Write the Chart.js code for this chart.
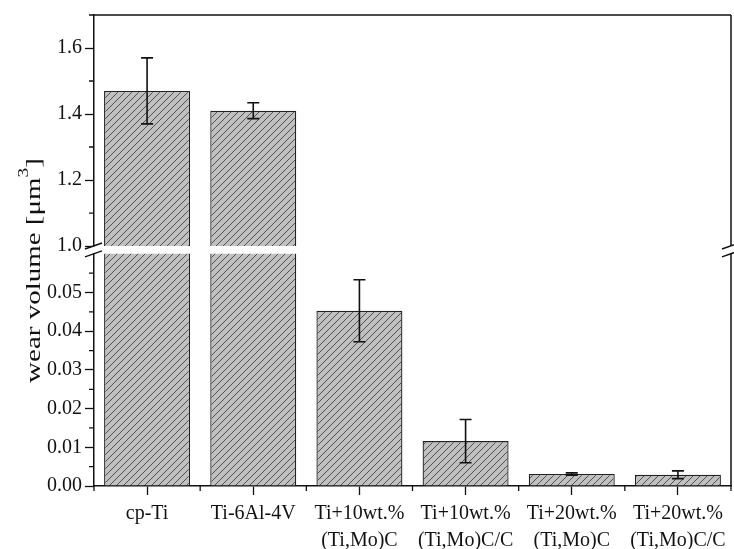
<!DOCTYPE html>
<html><head><meta charset="utf-8">
<script src="https://cdn.jsdelivr.net/npm/chart.js@4/dist/chart.umd.min.js"></script>
<style>html,body{margin:0;padding:0;background:#fff;} #wrap{width:734px;height:549px;position:relative;}</style>
</head><body><div id="wrap"><canvas id="c"></canvas></div>
<script>
// ---- data ----
const categories = [['cp-Ti'], ['Ti-6Al-4V'], ['Ti+10wt.%', '(Ti,Mo)C'], ['Ti+10wt.%', '(Ti,Mo)C/C'], ['Ti+20wt.%', '(Ti,Mo)C'], ['Ti+20wt.%', '(Ti,Mo)C/C']];
const wearVolume = [1.47, 1.41, 0.0453, 0.0116, 0.0031, 0.0029];
const wearError = [0.10, 0.024, 0.0080, 0.0056, 0.0003, 0.0010];
const upperTicks = [1.0, 1.2, 1.4, 1.6];
const upperTickLabels = ['1.0', '1.2', '1.4', '1.6'];
const upperMinorTicks = [1.1, 1.3, 1.5, 1.7];
const lowerTicks = [0, 0.01, 0.02, 0.03, 0.04, 0.05];
const lowerTickLabels = ['0.00', '0.01', '0.02', '0.03', '0.04', '0.05'];
const lowerMinorTicks = [0.005, 0.015, 0.025, 0.035, 0.045, 0.055];
const upperRange = [0.988, 1.7];
const lowerRange = [0, 0.061];
const breakUpper = 1.0;
const breakLower = 0.06;
const yTitle = 'wear volume [μm';
const yTitleSup = '3';

const FONT = "'Liberation Serif', 'Times New Roman', serif";

function makePattern() {
  const s = 7;
  const c = document.createElement('canvas');
  c.width = s; c.height = s;
  const g = c.getContext('2d');
  g.fillStyle = '#c0c0c0';
  g.fillRect(0, 0, s, s);
  g.strokeStyle = '#505050';
  g.lineWidth = 1;
  g.beginPath();
  for (const k of [-s, 0, s]) {
    g.moveTo(k - 1, s + 1);
    g.lineTo(k + s + 1, -1);
  }
  g.stroke();
  return g.createPattern(c, 'repeat');
}

const pattern = makePattern();

const breakPlugin = {
  id: 'breakAxis',
  beforeDatasetDraw(chart, args) {
    const meta = args.meta;
    const a = chart.chartArea;
    const ctx = chart.ctx;
    ctx.save();
    ctx.beginPath();
    if (meta.yAxisID === 'yUpper') {
      const yb = chart.scales.yUpper.getPixelForValue(breakUpper);
      ctx.rect(a.left - 5, a.top - 5, a.right - a.left + 10, yb - a.top + 5);
    } else {
      const yt = chart.scales.yLower.getPixelForValue(breakLower);
      ctx.rect(a.left - 5, yt, a.right - a.left + 10, a.bottom - yt + 5);
    }
    ctx.clip();
  },
  afterDatasetDraw(chart) {
    chart.ctx.restore();
  },
  afterDatasetsDraw(chart) {
    const ctx = chart.ctx;
    const xs = chart.scales.x;
    ctx.save();
    ctx.strokeStyle = '#111';
    ctx.lineWidth = 1.6;
    wearVolume.forEach((v, i) => {
      const ys = v >= breakUpper ? chart.scales.yUpper : chart.scales.yLower;
      const x = xs.getPixelForTick(i);
      const y1 = ys.getPixelForValue(v + wearError[i]);
      const y2 = ys.getPixelForValue(v - wearError[i]);
      const cw = 6;
      ctx.beginPath();
      ctx.moveTo(x, y1); ctx.lineTo(x, y2);
      ctx.moveTo(x - cw, y1); ctx.lineTo(x + cw, y1);
      ctx.moveTo(x - cw, y2); ctx.lineTo(x + cw, y2);
      ctx.stroke();
    });
    ctx.restore();
  },
  afterDraw(chart) {
    const ctx = chart.ctx;
    const a = chart.chartArea;
    const yu = chart.scales.yUpper, yl = chart.scales.yLower, xs = chart.scales.x;
    const yb = yu.getPixelForValue(breakUpper);
    const yt = yl.getPixelForValue(breakLower);
    ctx.save();
    // whiteout gap on axis lines
    ctx.fillStyle = '#fff';
    ctx.fillRect(a.left - 3, yb + 0.5, 6, yt - yb - 1);
    ctx.fillRect(a.right - 3, yb + 0.5, 6, yt - yb - 1);
    ctx.strokeStyle = '#111';
    ctx.lineWidth = 1.5;
    // frame top and right
    ctx.beginPath();
    ctx.moveTo(a.left, a.top); ctx.lineTo(a.right, a.top);
    ctx.moveTo(a.right, a.top); ctx.lineTo(a.right, yb);
    ctx.moveTo(a.right, yt); ctx.lineTo(a.right, a.bottom);
    ctx.stroke();
    // break marks
    ctx.beginPath();
    for (const xx of [a.left, a.right]) {
      for (const yy of [yb, yt]) {
        ctx.moveTo(xx - 9, yy + 3);
        ctx.lineTo(xx + 8, yy - 3);
      }
    }
    ctx.stroke();
    // minor ticks y
    ctx.lineWidth = 1.3;
    ctx.beginPath();
    upperMinorTicks.forEach(v => {
      const y = yu.getPixelForValue(v);
      ctx.moveTo(a.left - 5, y); ctx.lineTo(a.left, y);
    });
    lowerMinorTicks.forEach(v => {
      const y = yl.getPixelForValue(v);
      ctx.moveTo(a.left - 5, y); ctx.lineTo(a.left, y);
    });
    // minor ticks x at category boundaries
    const n = categories.length;
    const bounds = [a.left];
    for (let i = 0; i < n - 1; i++) bounds.push((xs.getPixelForTick(i) + xs.getPixelForTick(i + 1)) / 2);
    bounds.push(a.right);
    bounds.forEach(x => { ctx.moveTo(x, a.bottom); ctx.lineTo(x, a.bottom + 5); });
    ctx.stroke();
    // y title (stretched along its direction as in the reference)
    ctx.fillStyle = '#111';
    ctx.translate(a.left - 60, (a.top + a.bottom) / 2 + 20);
    ctx.rotate(-Math.PI / 2);
    ctx.scale(1.38, 1);
    ctx.textBaseline = 'middle';
    ctx.font = '21px ' + FONT;
    const w1 = ctx.measureText(yTitle).width;
    ctx.font = '14px ' + FONT;
    const w2 = ctx.measureText(yTitleSup).width;
    ctx.font = '21px ' + FONT;
    const w3 = ctx.measureText(']').width;
    let x0 = -(w1 + w2 + w3) / 2;
    ctx.textAlign = 'left';
    ctx.fillText(yTitle, x0, 0);
    ctx.font = '14px ' + FONT;
    ctx.fillText(yTitleSup, x0 + w1, -10);
    ctx.font = '21px ' + FONT;
    ctx.fillText(']', x0 + w1 + w2, 0);
    ctx.restore();
  }
};

const axisCommon = {
  border: { color: '#111', width: 1.5 },
  grid: { drawOnChartArea: false, drawTicks: true, tickLength: 9, tickColor: '#111', tickWidth: 1.3 },
};

new Chart(document.getElementById('c'), {
  type: 'bar',
  data: {
    labels: categories,
    datasets: [
      { data: wearVolume, yAxisID: 'yUpper', grouped: false, backgroundColor: pattern, borderColor: '#222', borderWidth: 1.3, borderSkipped: 'bottom', barPercentage: 0.81, categoryPercentage: 1.0 },
      { data: wearVolume, yAxisID: 'yLower', grouped: false, backgroundColor: pattern, borderColor: '#222', borderWidth: 1.3, borderSkipped: 'bottom', barPercentage: 0.81, categoryPercentage: 1.0 }
    ]
  },
  options: {
    responsive: true,
    maintainAspectRatio: false,
    animation: false,
    layout: { padding: { left: 44, top: 15, right: 3, bottom: -10 } },
    plugins: { legend: { display: false }, tooltip: { enabled: false } },
    scales: {
      x: {
        type: 'category',
        offset: true,
        z: 1,
        border: { color: '#111', width: 1.5 },
        grid: { offset: false, drawOnChartArea: false, tickLength: 9, tickColor: '#111', tickWidth: 1.3 },
        ticks: { color: '#111', font: { family: FONT, size: 20, lineHeight: 1.35 }, padding: 5, maxRotation: 0, autoSkip: false }
      },
      yUpper: {
        type: 'linear',
        position: 'left',
        stack: 'yst',
        stackWeight: 235,
        weight: 1,
        z: 1,
        min: upperRange[0],
        max: upperRange[1],
        afterBuildTicks(scale) { scale.ticks = upperTicks.map(v => ({ value: v })); },
        ticks: { color: '#111', font: { family: FONT, size: 20 }, padding: 3, autoSkip: false, callback: (v, i) => upperTickLabels[i] },
        ...axisCommon
      },
      yLower: {
        type: 'linear',
        position: 'left',
        stack: 'yst',
        stackWeight: 236,
        weight: 0,
        z: 1,
        min: lowerRange[0],
        max: lowerRange[1],
        afterBuildTicks(scale) { scale.ticks = lowerTicks.map(v => ({ value: v })); },
        ticks: { color: '#111', font: { family: FONT, size: 20 }, padding: 3, autoSkip: false, callback: (v, i) => lowerTickLabels[i] },
        ...axisCommon
      }
    }
  },
  plugins: [breakPlugin]
});
</script>
</body></html>
